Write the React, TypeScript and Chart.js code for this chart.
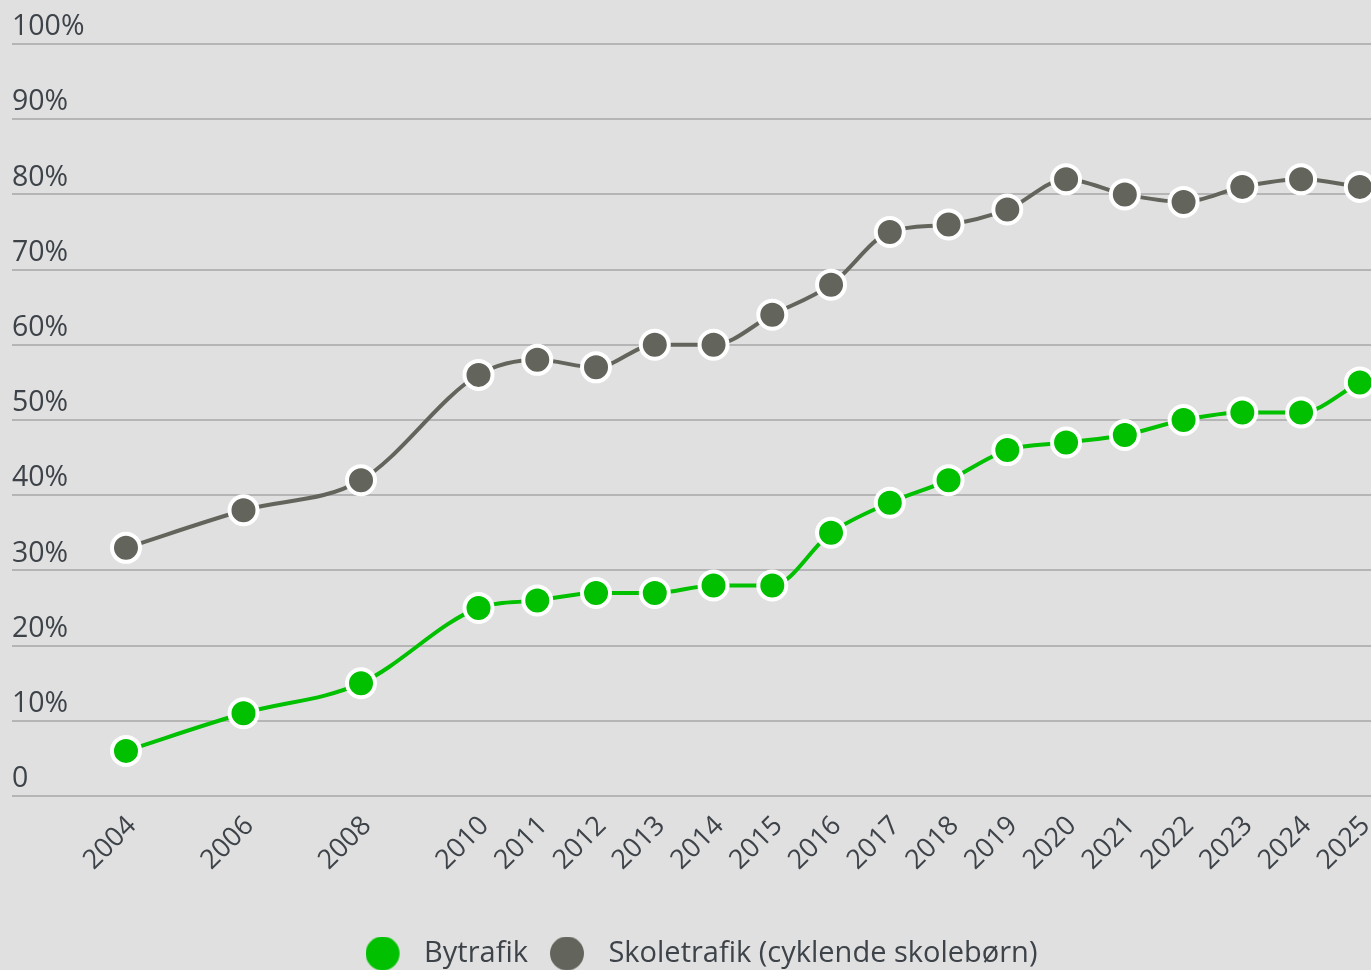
import React, { useEffect, useRef } from "react";
import { Chart, registerables } from "chart.js";

Chart.register(...registerables);

const years = [2004, 2006, 2008, 2010, 2011, 2012, 2013, 2014, 2015, 2016, 2017, 2018, 2019, 2020, 2021, 2022, 2023, 2024, 2025];
const bytrafik = [6, 11, 15, 25, 26, 27, 27, 28, 28, 35, 39, 42, 46, 47, 48, 50, 51, 51, 55];
const skoletrafik = [33, 38, 42, 56, 58, 57, 60, 60, 64, 68, 75, 76, 78, 82, 80, 79, 81, 82, 81];
const yTickValues = [0, 10, 20, 30, 40, 50, 60, 70, 80, 90, 100];
const seriesNames = ["Bytrafik", "Skoletrafik (cyklende skolebørn)"];

const GREEN = "#00c000";
const GREY = "#63645c";
const TEXT = "#3d4349";
const FONT = "'Open Sans', 'Noto Sans', sans-serif";

const bgPlugin = {
  id: "bg",
  beforeDraw(chart: any) {
    const { ctx, width, height } = chart;
    ctx.save();
    ctx.fillStyle = "#e0e0e0";
    ctx.fillRect(0, 0, width, height);
    ctx.restore();
  },
};

const legendShift = {
  id: "legendShift",
  afterLayout(chart: any) {
    const lg = chart.legend;
    if (!lg) return;
    lg.left += 10;
    lg.right += 10;
    lg.top += 8;
    lg.bottom += 8;
  },
};

function legendDot(color: string) {
  const c = document.createElement("canvas");
  c.width = 44;
  c.height = 34;
  const g = c.getContext("2d")!;
  g.fillStyle = color;
  g.beginPath();
  g.arc(17, 17, 17, 0, Math.PI * 2);
  g.fill();
  return c;
}

export default function App() {
  const ref = useRef<HTMLCanvasElement | null>(null);
  useEffect(() => {
    document.body.style.margin = "0";
    document.body.style.background = "#e0e0e0";
    const mk = (vals: number[]) => vals.map((v, i) => ({ x: years[i], y: v }));
    const dots = [legendDot(GREEN), legendDot(GREY)];
    const ds = (label: string, vals: number[], color: string) => ({
      label,
      data: mk(vals),
      borderColor: color,
      backgroundColor: color,
      borderWidth: 4,
      pointRadius: 14,
      pointBorderWidth: 4,
      pointBorderColor: "#ffffff",
      pointBackgroundColor: color,
      cubicInterpolationMode: "monotone",
      clip: false,
    });
    const chart = new Chart(ref.current!, {
      type: "line",
      data: {
        datasets: [ds(seriesNames[0], bytrafik, GREEN), ds(seriesNames[1], skoletrafik, GREY)],
      },
      options: {
        responsive: false,
        animation: false,
        layout: { autoPadding: false, padding: { left: 12, top: 44, right: 0, bottom: 0 } },
        plugins: {
          tooltip: { enabled: false },
          legend: {
            position: "bottom",
            labels: {
              usePointStyle: true,
              pointStyleWidth: 44,
              boxHeight: 24,
              padding: 22,
              color: TEXT,
              font: { family: FONT, size: 29 },
              generateLabels: (chart: any) => {
                const items = Chart.defaults.plugins.legend.labels.generateLabels(chart);
                return items.map((it: any, i: number) => ({ ...it, pointStyle: dots[i] }));
              },
            },
          },
        },
        scales: {
          x: {
            type: "linear",
            min: 2002.06,
            max: 2025.19,
            afterBuildTicks: (scale: any) => {
              scale.ticks = years.map((v) => ({ value: v }));
            },
            afterFit: (scale: any) => {
              scale.paddingLeft = 0;
              scale.paddingRight = 0;
              scale.height = 113;
            },
            grid: { display: false, drawTicks: false },
            border: { display: false },
            ticks: {
              autoSkip: false,
              minRotation: 45,
              maxRotation: 45,
              padding: 14,
              labelOffset: 6,
              color: TEXT,
              font: { family: FONT, size: 27 },
              callback: (v: any) => String(v),
            },
          },
          y: {
            type: "linear",
            min: 0,
            max: 100,
            afterBuildTicks: (scale: any) => {
              scale.ticks = yTickValues.map((v) => ({ value: v }));
            },
            afterFit: (scale: any) => {
              scale.width = 0;
              scale.paddingTop = 0;
              scale.paddingBottom = 0;
            },
            grid: { color: "#b5b5b5", lineWidth: 2, drawTicks: false },
            border: { display: false },
            ticks: {
              mirror: true,
              padding: 0,
              labelOffset: -17,
              color: TEXT,
              font: { family: FONT, size: 28.5 },
              callback: (v: any) => (v === 0 ? "0" : v + "%"),
            },
          },
        },
      } as any,
      plugins: [bgPlugin, legendShift],
    });
    return () => chart.destroy();
  }, []);
  return (
    <div style={{ position: "absolute", left: 0, top: 0, width: 1371, height: 970 }}>
      <canvas ref={ref} width={1371} height={970} />
    </div>
  );
}
